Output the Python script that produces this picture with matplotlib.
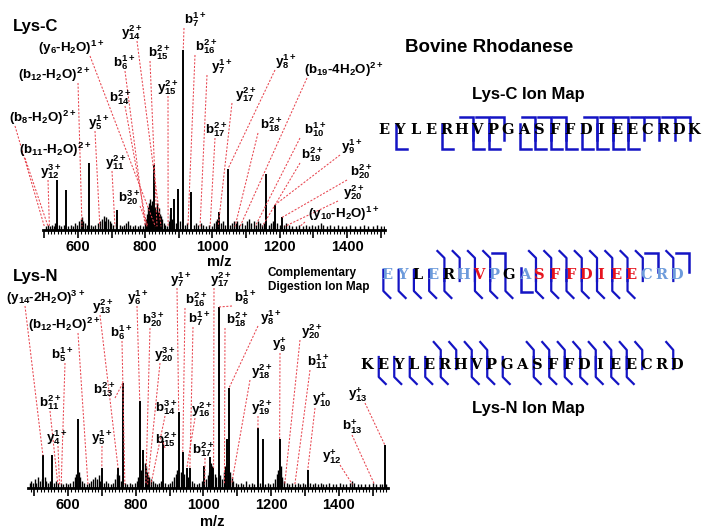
import numpy as np
import matplotlib
matplotlib.use('Agg')
import matplotlib.pyplot as plt
from matplotlib.ticker import MultipleLocator

plt.rcParams['font.family'] = 'Liberation Sans'
plt.rcParams['font.weight'] = 'bold'
plt.rcParams['mathtext.fontset'] = 'custom'
plt.rcParams['mathtext.rm'] = 'Liberation Sans:bold'
plt.rcParams['mathtext.bf'] = 'Liberation Sans:bold'
plt.rcParams['mathtext.default'] = 'bf'

W, H = 702, 529

# ---- Lys-C spectrum (m/z, relative intensity %)
lysc_mz = [537, 564, 633, 716, 826, 877, 886, 898, 913, 936, 1020, 1046, 1160, 1186, 1207]
lysc_int = [28, 22, 37, 11, 36, 12, 17, 23, 100, 21, 10, 34, 31, 14, 7]
lysc_noise_mz = [505, 510, 516, 522, 528, 533, 545, 551, 557, 570, 578, 585, 592, 598, 604, 608, 612,
                 616, 620, 626, 640, 646, 652, 660, 666, 671, 676, 680, 684, 689, 694, 699, 705, 712,
                 724, 731, 738, 744, 749, 756, 763, 770, 778, 785, 792, 798, 803, 806, 809, 812, 815,
                 818, 820, 823, 829, 832, 835, 838, 841, 844, 847, 851, 855, 860, 866, 871, 874, 881,
                 891, 904, 919, 925, 944, 950, 958, 966, 973, 981, 990, 998, 1005, 1009, 1013, 1017,
                 1026, 1031, 1038, 1052, 1058, 1064, 1069, 1074, 1080, 1088, 1096, 1104, 1110, 1116,
                 1122, 1128, 1135, 1141, 1148, 1154, 1168, 1174, 1180, 1193, 1200, 1213, 1220, 1228,
                 1237, 1248, 1258, 1268, 1278, 1287, 1296, 1305, 1313, 1322, 1330, 1340, 1350, 1362,
                 1374, 1386, 1398, 1410, 1424, 1438, 1450, 1462, 1476, 1490, 1502, 1509]
lysc_noise_int = [2, 3, 2, 3, 2, 4, 3, 2, 3, 2, 3, 2, 4, 3, 5, 6, 7,
                  5, 4, 3, 3, 2, 3, 4, 5, 6, 8, 5, 7, 6, 5, 4, 3, 4,
                  3, 2, 3, 4, 5, 3, 2, 3, 2, 3, 2, 4, 6, 9, 13, 15, 17,
                  14, 16, 12, 13, 11, 15, 10, 12, 9, 8, 6, 4, 3, 2, 5, 9, 6,
                  4, 5, 3, 4, 3, 4, 3, 4, 3, 2, 3, 2, 4, 5, 6, 5,
                  4, 5, 3, 3, 4, 5, 4, 5, 3, 4, 3, 5, 6, 4,
                  5, 3, 5, 4, 3, 4, 3, 4, 5, 4, 3, 3, 4, 3,
                  2, 2, 3, 2, 3, 2, 3, 2, 3, 4, 3, 2, 3, 2,
                  3, 2, 2, 3, 2, 2, 3, 2, 2, 3, 2, 2]

# ---- Lys-N spectrum
lysn_mz = [526, 553, 629, 700, 748, 762, 812, 822, 880, 927, 939, 951, 960, 1001, 1019, 1028,
           1045, 1069, 1075, 1161, 1175, 1225, 1308, 1535]
lysn_int = [18, 18, 38, 11, 11, 58, 48, 21, 26, 42, 20, 11, 11, 12, 17, 11,
            100, 27, 55, 33, 27, 27, 10, 24]
lysn_noise_mz = [487, 492, 497, 502, 507, 512, 518, 522, 531, 536, 541, 547, 559, 565, 571, 578,
                 586, 593, 600, 607, 614, 620, 624, 633, 637, 642, 648, 655, 662, 668, 674, 680,
                 686, 691, 696, 706, 713, 719, 726, 733, 740, 744, 752, 756, 768, 775, 782, 790,
                 797, 803, 807, 817, 826, 829, 833, 836, 840, 845, 850, 856, 863, 870, 876, 886,
                 894, 902, 908, 913, 918, 922, 933, 944, 955, 966, 973, 981, 988, 995, 1008, 1013,
                 1016, 1023, 1025, 1033, 1037, 1050, 1055, 1060, 1064, 1072, 1079, 1083, 1088, 1095,
                 1102, 1110, 1118, 1126, 1134, 1142, 1150, 1168, 1182, 1190, 1198, 1206, 1212, 1216,
                 1220, 1229, 1233, 1238, 1246, 1254, 1262, 1270, 1278, 1285, 1293, 1300, 1316, 1323,
                 1330, 1338, 1346, 1354, 1362, 1372, 1382, 1392, 1402, 1412, 1422, 1432, 1438, 1445,
                 1455, 1465, 1478, 1490, 1502, 1510, 1520, 1528, 1540]
lysn_noise_int = [3, 4, 3, 5, 3, 6, 4, 5, 6, 4, 3, 4, 3, 4, 3, 3,
                  2, 3, 2, 3, 4, 6, 8, 9, 6, 4, 3, 2, 3, 4, 5, 6,
                  5, 7, 4, 3, 4, 3, 2, 3, 5, 8, 7, 4, 3, 2, 3, 2,
                  3, 4, 6, 10, 14, 12, 9, 7, 6, 5, 4, 3, 2, 3, 4, 3,
                  2, 3, 4, 6, 8, 10, 9, 8, 6, 4, 3, 2, 3, 4, 5, 7,
                  9, 14, 12, 8, 6, 7, 5, 9, 12, 14, 9, 6, 4, 3,
                  2, 3, 2, 4, 2, 3, 2, 3, 2, 3, 2, 3, 5, 8,
                  10, 12, 6, 4, 3, 2, 3, 2, 3, 2, 3, 2, 3, 2,
                  3, 2, 3, 2, 2, 3, 2, 2, 3, 2, 2, 3, 4, 3,
                  2, 2, 2, 2, 3, 2, 2, 2, 2]

# ---- fragment labels and the ion m/z each dashed line points to
lysc_labels = ['b$_7^{1+}$', 'y$_{14}^{2+}$', '(y$_6$-H$_2$O)$^{1+}$', 'b$_6^{1+}$', 'b$_{15}^{2+}$',
               'b$_{16}^{2+}$', 'y$_7^{1+}$', 'y$_8^{1+}$', '(b$_{12}$-H$_2$O)$^{2+}$', 'y$_{15}^{2+}$',
               'b$_{14}^{2+}$', 'y$_{17}^{2+}$', '(b$_{19}$-4H$_2$O)$^{2+}$', '(b$_8$-H$_2$O)$^{2+}$',
               'y$_5^{1+}$', 'b$_{18}^{2+}$', 'b$_{10}^{1+}$', 'b$_{17}^{2+}$', '(b$_{11}$-H$_2$O)$^{2+}$',
               'y$_9^{1+}$', 'b$_{19}^{2+}$', 'y$_{11}^{2+}$', 'y$_{12}^{3+}$', 'b$_{20}^{2+}$',
               'y$_{20}^{2+}$', 'b$_{20}^{3+}$', '(y$_{10}$-H$_2$O)$^{1+}$']
lysc_ion_mz = [913, 847, 830, 800, 835, 927, 963, 1046, 612, 868, 805, 1017, 1082, 500,
               665, 1067, 1127, 993, 511, 1186, 1148, 710, 515, 1207, 1215, 808, 1260]

lysn_labels = ['y$_7^{1+}$', 'y$_{17}^{2+}$', '(y$_{14}$-2H$_2$O)$^{3+}$', 'y$_{13}^{2+}$', 'y$_6^{1+}$',
               'b$_{16}^{2+}$', 'b$_8^{1+}$', '(b$_{12}$-H$_2$O)$^{2+}$', 'b$_{20}^{3+}$', 'b$_7^{1+}$',
               'b$_{18}^{2+}$', 'y$_8^{1+}$', 'y$_{20}^{2+}$', 'b$_6^{1+}$', 'b$_5^{1+}$', 'y$_{20}^{3+}$',
               'y$_9^{+}$', 'b$_{11}^{1+}$', 'y$_{18}^{2+}$', 'b$_{13}^{2+}$', 'b$_{11}^{2+}$',
               'b$_{14}^{3+}$', 'y$_{16}^{2+}$', 'y$_{19}^{2+}$', 'y$_{10}^{+}$', 'y$_{13}^{+}$',
               'b$_{13}^{+}$', 'y$_{12}^{+}$', 'y$_4^{1+}$', 'y$_5^{1+}$', 'b$_{15}^{2+}$', 'b$_{17}^{2+}$']
lysn_ion_mz = [927, 1030, 526, 748, 812, 939, 1045, 659, 830, 960, 1062, 1075, 1240, 768, 580,
               835, 1225, 1270, 1083, 762, 570, 845, 951, 1161, 1308, 1535, 1505, 1440, 575,
               700, 880, 1004]

# label placement in picture pixels: (centre x, centre y, x where the line leaves)
lysc_label_px = [(195, 20, 184), (132, 33, 137), (71, 48, 90), (124, 63, 125), (159, 53, 150),
                 (206, 47, 195), (222, 67, 207), (286, 62, 275), (54, 75, 78), (168, 88, 168),
                 (120, 98, 125), (246, 95, 232), (344, 70, 307), (43, 118, 15), (99, 123, 95),
                 (271, 125, 258), (315, 130, 300), (216, 130, 215), (55, 150, 25), (352, 147, 340),
                 (312, 155, 300), (116, 163, 112), (51, 172, 48), (361, 172, 347), (354, 193, 338),
                 (129, 198, 140), (344, 214, 305)]
lysn_label_px = [(181, 280, 177), (221, 280, 214), (46, 298, 25), (103, 307, 100), (138, 298, 137),
                 (196, 300, 185), (245, 298, 232), (64, 325, 78), (153, 320, 150), (199, 319, 193),
                 (237, 320, 225), (271, 318, 258), (312, 332, 300), (121, 333, 122), (62, 355, 65),
                 (165, 355, 160), (279, 345, 280), (318, 362, 310), (262, 372, 250), (104, 390, 115),
                 (50, 403, 50), (166, 408, 165), (202, 410, 195), (262, 408, 258), (322, 400, 315),
                 (358, 395, 365), (352, 427, 352), (332, 457, 340), (57, 438, 58), (102, 438, 102),
                 (166, 440, 165), (203, 450, 205)]

# ---- ion maps: cleavage sites (after residue k, 1-based)
lysc_seq = 'EYLERHVPGASFFDIEECRDK'
lysc_b_cuts = [6, 7, 8, 10, 11, 12, 14, 15, 16, 17, 18, 19, 20]
lysc_y_cuts = [1, 4, 6, 7, 9, 10, 11, 12, 13, 14, 15, 16]
lysn_seq = 'KEYLERHVPGASFFDIEECRD'
lysn_b_cuts = [5, 6, 7, 8, 11, 12, 13, 14, 15, 16, 17, 18, 20]
lysn_y_cuts = [1, 2, 3, 4, 5, 7, 8, 9, 11, 12, 13, 14, 15, 16, 17]
comp_seq = 'EYLERHVPGASFFDIEECRD'
comp_cols = 'bbkbkbrbkbrrrrrrrbbb'

RED = '#e8454f'
BLUE = '#1414c4'
LBLUE = '#6d9bdb'
col_map = {'b': LBLUE, 'k': 'black', 'r': '#e6141e'}

fig = plt.figure(figsize=(W / 100, H / 100), dpi=100)


def spectrum_axes(left, right, base, top, xlim, px100):
    ax = fig.add_axes([left / W, 1 - base / H, (right - left) / W, (base - top) / H])
    ax.set_xlim(*xlim)
    ax.set_ylim(0, (base - top) / px100 * 100)
    ax.patch.set_alpha(0)
    for s in ['left', 'right', 'top']:
        ax.spines[s].set_visible(False)
    ax.spines['bottom'].set_linewidth(2)
    ax.set_yticks([])
    ticks = np.arange(500, 1501, 100)
    ax.set_xticks(ticks)
    ax.set_xticklabels([str(t) if t % 200 == 0 else '' for t in ticks])
    ax.xaxis.set_minor_locator(MultipleLocator(10))
    ax.tick_params(axis='x', which='major', length=6, width=1.2, labelsize=10.5, pad=1)
    ax.tick_params(axis='x', which='minor', length=3, width=0.8)
    return ax


ax1 = spectrum_axes(43, 385, 230, 0, (496, 1513), 180)
ax2 = spectrum_axes(28, 388, 488, 262, (482, 1545), 181)

for ax, mz, it, nmz, nit in [(ax1, lysc_mz, lysc_int, lysc_noise_mz, lysc_noise_int),
                             (ax2, lysn_mz, lysn_int, lysn_noise_mz, lysn_noise_int)]:
    ax.vlines(nmz, 0, nit, color='black', lw=1.0)
    ax.vlines(mz, 0, it, color='black', lw=1.4)

ov = fig.add_axes([0, 0, 1, 1])
ov.set_xlim(0, W)
ov.set_ylim(H, 0)
ov.axis('off')
ov.patch.set_alpha(0)


def to_px(ax, x, y):
    dx, dy = ax.transData.transform((x, y))
    return dx, H - dy


def annotate(ax, labels, ion_mz, layout, mz, it):
    for lab, target, (cx, cy, x0) in zip(labels, ion_mz, layout):
        ov.text(cx, cy, lab, ha='center', va='center', fontsize=9.6, fontweight='bold')
        near = [v for m, v in zip(mz, it) if abs(m - target) <= 2]
        yend = near[0] if near else 2
        ex, ey = to_px(ax, target, yend)
        ov.plot([x0, ex], [cy + 8, ey], color=RED, lw=0.75, dashes=(2, 1.5))


annotate(ax1, lysc_labels, lysc_ion_mz, lysc_label_px, lysc_mz, lysc_int)
annotate(ax2, lysn_labels, lysn_ion_mz, lysn_label_px, lysn_mz, lysn_int)

# axis titles and headings
ov.text(219, 262, 'm/z', ha='center', va='center', fontsize=10.5, fontweight='bold')
ov.text(212, 522, 'm/z', ha='center', va='center', fontsize=10.5, fontweight='bold')
ov.text(13, 27, 'Lys-C', ha='left', va='center', fontsize=12, fontweight='bold')
ov.text(13, 277, 'Lys-N', ha='left', va='center', fontsize=12, fontweight='bold')
ov.text(489, 47, 'Bovine Rhodanese', ha='center', va='center', fontsize=13.5, fontweight='bold')
ov.text(528, 95, 'Lys-C Ion Map', ha='center', va='center', fontsize=12, fontweight='bold')
ov.text(528, 408, 'Lys-N Ion Map', ha='center', va='center', fontsize=12, fontweight='bold')
ov.text(268, 280, 'Complementary\nDigestion Ion Map', ha='left', va='center', fontsize=8.5,
        fontweight='bold', linespacing=1.15)


def draw_seq(seq, colors, x0, step, y):
    for i, ch in enumerate(seq):
        ov.text(x0 + step * i, y, ch, ha='center', va='center', family='DejaVu Serif',
                fontweight='bold', fontsize=10.5, color=colors[i])


def cut_x(k, x0, step):
    return x0 + step * (k - 1) + step / 2 + 4


def b_flat(x, yt, yb, w):
    ov.plot([x - w, x, x], [yt, yt, yb], color=BLUE, lw=1.8, solid_joinstyle='miter')


def y_flat(x, yt, yb, w):
    ov.plot([x, x, x + w], [yt, yb, yb], color=BLUE, lw=1.8, solid_joinstyle='miter')


def b_slant(x, yt, yk, yb, w):
    ov.plot([x - w, x, x], [yt, yk, yb], color=BLUE, lw=1.6)


def y_slant(x, yt, yk, yb, w):
    ov.plot([x, x, x + w], [yt, yk, yb], color=BLUE, lw=1.6)


# Lys-C map
x0, step, yc = 384, 15.5, 130
draw_seq(lysc_seq, ['black'] * len(lysc_seq), x0, step, yc)
for k in lysc_b_cuts:
    b_flat(cut_x(k, x0, step), 117, 140, 13)
for k in lysc_y_cuts:
    y_flat(cut_x(k, x0, step), 124, 149, 11)

# complementary map
x0, step, yc = 387, 15.26, 275
draw_seq(comp_seq, [col_map[c] for c in comp_cols], x0, step, yc)
shift_b = [k - 1 for k in lysn_b_cuts]
shift_y = [k - 1 for k in lysn_y_cuts]
for k in shift_b:
    b_slant(cut_x(k, x0, step), 251, 258, 281, 7)
for k in lysc_b_cuts:
    if k not in shift_b:
        b_flat(cut_x(k, x0, step), 253, 272, 13)
for k in shift_y:
    y_slant(cut_x(k, x0, step), 270, 291, 298, 7)
for k in lysc_y_cuts:
    if k not in shift_y:
        y_flat(cut_x(k, x0, step), 268, 292, 11)

# Lys-N map
x0, step, yc = 367, 15.5, 365
draw_seq(lysn_seq, ['black'] * len(lysn_seq), x0, step, yc)
for k in lysn_b_cuts:
    b_slant(cut_x(k, x0, step), 342, 350, 369, 7)
for k in lysn_y_cuts:
    y_slant(cut_x(k, x0, step), 357, 377, 384, 7)

fig.savefig('out.png', dpi=100)
